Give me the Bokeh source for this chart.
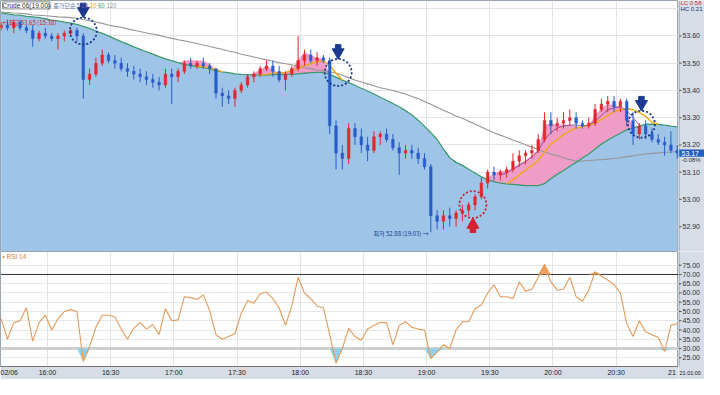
import numpy as np
from bokeh.plotting import figure
from bokeh.models import Range1d, ColumnDataSource, FixedTicker, Label, Span
from bokeh.layouts import column, row
from bokeh.core.properties import value
from bokeh.embed import file_html
from bokeh.resources import INLINE

# ---------------- data ----------------
# 3-minute bars, clock in minutes after midnight (15:38 ... 20:59)
bar_minutes = list(range(938, 1260, 3))

opens = [53.63, 53.64, 53.63, 53.65, 53.63, 53.62, 53.59, 53.61, 53.60, 53.59,
         53.60, 53.61, 53.62, 53.60, 53.44, 53.46, 53.50, 53.53, 53.51, 53.50,
         53.48, 53.47, 53.46, 53.45, 53.44, 53.43, 53.42, 53.46, 53.45, 53.47,
         53.50, 53.49, 53.50, 53.49, 53.48, 53.39, 53.38, 53.37, 53.40, 53.42,
         53.45, 53.46, 53.48, 53.49, 53.47, 53.44, 53.46, 53.48, 53.51, 53.53,
         53.51, 53.52, 53.51, 53.27, 53.17, 53.15, 53.26, 53.23, 53.20, 53.18,
         53.23, 53.24, 53.22, 53.19, 53.17, 53.18, 53.17, 53.15, 53.12, 52.94,
         52.92, 52.94, 52.93, 52.95, 52.96, 52.98, 53.01, 53.06, 53.10, 53.09,
         53.10, 53.11, 53.14, 53.16, 53.17, 53.18, 53.22, 53.29, 53.27, 53.28,
         53.29, 53.30, 53.28, 53.27, 53.28, 53.33, 53.35, 53.36, 53.34, 53.36,
         53.29, 53.24, 53.27, 53.24, 53.22, 53.21, 53.20, 53.18]
highs = [53.65, 53.66, 53.66, 53.66, 53.64, 53.64, 53.62, 53.63, 53.61, 53.61,
         53.62, 53.63, 53.63, 53.61, 53.48, 53.52, 53.55, 53.54, 53.53, 53.52,
         53.50, 53.49, 53.48, 53.47, 53.46, 53.45, 53.48, 53.48, 53.48, 53.51,
         53.52, 53.51, 53.52, 53.50, 53.48, 53.41, 53.40, 53.41, 53.43, 53.46,
         53.47, 53.49, 53.51, 53.51, 53.49, 53.47, 53.49, 53.60, 53.55, 53.55,
         53.54, 53.53, 53.52, 53.29, 53.20, 53.28, 53.28, 53.26, 53.23, 53.25,
         53.25, 53.26, 53.24, 53.21, 53.20, 53.20, 53.19, 53.17, 53.13, 52.96,
         52.96, 52.97, 52.96, 52.98, 52.99, 53.02, 53.08, 53.11, 53.12, 53.11,
         53.12, 53.17, 53.18, 53.18, 53.20, 53.24, 53.32, 53.32, 53.30, 53.32,
         53.33, 53.32, 53.29, 53.30, 53.35, 53.37, 53.38, 53.38, 53.37, 53.37,
         53.32, 53.28, 53.29, 53.26, 53.24, 53.23, 53.25, 53.20]
lows = [53.62, 53.62, 53.61, 53.62, 53.61, 53.56, 53.58, 53.59, 53.58, 53.55,
        53.58, 53.60, 53.58, 53.37, 53.42, 53.45, 53.49, 53.50, 53.48, 53.47,
        53.45, 53.44, 53.43, 53.42, 53.41, 53.40, 53.41, 53.35, 53.43, 53.46,
        53.48, 53.48, 53.48, 53.46, 53.37, 53.34, 53.35, 53.34, 53.39, 53.41,
        53.43, 53.45, 53.47, 53.45, 53.43, 53.40, 53.45, 53.47, 53.49, 53.50,
        53.49, 53.50, 53.24, 53.11, 53.11, 53.13, 53.20, 53.17, 53.14, 53.17,
        53.20, 53.21, 53.18, 53.09, 53.15, 53.15, 53.13, 53.11, 52.88, 52.89,
        52.89, 52.90, 52.90, 52.92, 52.94, 52.96, 53.00, 53.04, 53.07, 53.07,
        53.08, 53.10, 53.12, 53.13, 53.15, 53.17, 53.21, 53.24, 53.25, 53.26,
        53.27, 53.26, 53.26, 53.26, 53.27, 53.32, 53.32, 53.32, 53.32, 53.27,
        53.20, 53.22, 53.22, 53.21, 53.20, 53.16, 53.17, 53.15]
closes = [53.64, 53.63, 53.65, 53.63, 53.62, 53.59, 53.61, 53.60, 53.59, 53.60,
          53.61, 53.62, 53.60, 53.44, 53.46, 53.50, 53.53, 53.51, 53.50, 53.48,
          53.47, 53.46, 53.45, 53.44, 53.43, 53.42, 53.46, 53.45, 53.47, 53.50,
          53.49, 53.50, 53.49, 53.48, 53.39, 53.38, 53.37, 53.40, 53.42, 53.45,
          53.46, 53.48, 53.49, 53.47, 53.44, 53.46, 53.48, 53.51, 53.53, 53.51,
          53.52, 53.51, 53.27, 53.17, 53.15, 53.26, 53.23, 53.20, 53.18, 53.23,
          53.24, 53.22, 53.19, 53.17, 53.18, 53.17, 53.15, 53.12, 52.94, 52.92,
          52.94, 52.93, 52.95, 52.96, 52.98, 53.01, 53.06, 53.10, 53.09, 53.10,
          53.11, 53.14, 53.16, 53.17, 53.18, 53.22, 53.29, 53.27, 53.28, 53.29,
          53.30, 53.28, 53.27, 53.28, 53.33, 53.35, 53.36, 53.34, 53.36, 53.29,
          53.24, 53.27, 53.24, 53.22, 53.21, 53.20, 53.18, 53.17]

# 60-bar moving average (green, top of the blue area)
ma60 = [53.684, 53.681, 53.677, 53.676, 53.672, 53.670, 53.667, 53.663, 53.658, 53.655,
        53.651, 53.647, 53.642, 53.635, 53.628, 53.618, 53.609, 53.600, 53.589, 53.579,
        53.570, 53.560, 53.551, 53.542, 53.533, 53.524, 53.516, 53.509, 53.502, 53.496,
        53.491, 53.487, 53.484, 53.479, 53.473, 53.468, 53.465, 53.461, 53.459, 53.458,
        53.456, 53.456, 53.456, 53.458, 53.458, 53.459, 53.459, 53.461, 53.463, 53.465,
        53.466, 53.466, 53.459, 53.449, 53.438, 53.429, 53.419, 53.408, 53.398, 53.387,
        53.375, 53.364, 53.352, 53.340, 53.326, 53.310, 53.291, 53.269, 53.245, 53.220,
        53.185, 53.153, 53.136, 53.125, 53.111, 53.097, 53.083, 53.072, 53.065, 53.060,
        53.057, 53.055, 53.053, 53.051, 53.051, 53.051, 53.058, 53.076, 53.092, 53.106,
        53.122, 53.136, 53.152, 53.167, 53.185, 53.203, 53.217, 53.231, 53.243, 53.255,
        53.262, 53.269, 53.276, 53.276, 53.275, 53.273, 53.269, 53.266]
# 120-bar moving average (gray)
ma120 = [53.688, 53.686, 53.684, 53.683, 53.681, 53.677, 53.676, 53.674, 53.672, 53.670,
         53.669, 53.667, 53.665, 53.660, 53.656, 53.651, 53.646, 53.640, 53.635, 53.632,
         53.626, 53.621, 53.616, 53.611, 53.607, 53.602, 53.596, 53.591, 53.586, 53.582,
         53.577, 53.572, 53.567, 53.561, 53.556, 53.551, 53.545, 53.540, 53.533, 53.528,
         53.523, 53.517, 53.512, 53.507, 53.502, 53.498, 53.494, 53.489, 53.484, 53.479,
         53.475, 53.472, 53.468, 53.463, 53.456, 53.447, 53.438, 53.431, 53.424, 53.417,
         53.410, 53.405, 53.400, 53.393, 53.387, 53.378, 53.370, 53.359, 53.349, 53.338,
         53.327, 53.317, 53.306, 53.298, 53.287, 53.276, 53.266, 53.255, 53.245, 53.236,
         53.227, 53.218, 53.210, 53.201, 53.192, 53.183, 53.174, 53.167, 53.160, 53.153,
         53.146, 53.141, 53.141, 53.143, 53.145, 53.146, 53.148, 53.150, 53.153, 53.157,
         53.160, 53.164, 53.167, 53.169, 53.171, 53.173, 53.174, 53.176]
# 5-bar average where it runs above the 60 line (top of the pink band)
ma5_above = ([None] * 28 +
             [53.502, 53.509, 53.512, 53.509, 53.509, 53.498, 53.473] +
             [None] * 4 +
             [53.458, 53.463, 53.477, 53.491, 53.477, 53.463, 53.466, 53.477, 53.512, 53.540,
              53.530, 53.519, 53.516, 53.459] +
             [None] * 24 +
             [53.079, 53.097, 53.104, 53.104, 53.115, 53.132, 53.143, 53.160, 53.185, 53.273,
              53.280, 53.273, 53.276, 53.273, 53.269, 53.262, 53.273, 53.308, 53.336, 53.350,
              53.347, 53.340, 53.322, 53.262] +
             [None] * 7)
# 20-bar average (orange) where visible
ma20_above = ([None] * 31 +
              [53.489, 53.487, 53.482, 53.477, 53.468] +
              [None] * 5 +
              [53.456, 53.459, 53.463, 53.465, 53.466, 53.473, 53.480, 53.491, 53.498, 53.505,
               53.509, 53.491, 53.463, 53.438] +
              [None] * 25 +
              [53.058, 53.072, 53.090, 53.108, 53.125, 53.143, 53.174, 53.203, 53.220, 53.238,
               53.252, 53.262, 53.266, 53.273, 53.280, 53.294, 53.308, 53.322, 53.329, 53.333,
               53.329, 53.319, 53.305, 53.283, 53.275] +
              [None] * 3)
# 10-bar average (purple) where visible
ma10_above = ([None] * 79 +
              [53.090, 53.097, 53.111, 53.125, 53.139, 53.157, 53.178, 53.220, 53.245, 53.262,
               53.269, 53.273, 53.273, 53.269, 53.273, 53.287, 53.308, 53.329, 53.336, 53.340,
               53.326, 53.301, 53.273] +
              [None] * 6)

rsi14 = [46, 35, 44, 45, 52, 34, 44, 48, 40, 46,
         50, 51, 50, 23, 31, 41.5, 48, 48, 47, 40.5,
         35, 41, 44, 40.5, 43, 37.5, 51.5, 45, 45.5, 58,
         57.5, 56.5, 59, 50.5, 37.5, 35, 36.5, 38, 49, 56,
         54.5, 59.5, 60.5, 57, 52, 42.5, 53, 68.5, 60, 57,
         53, 52, 37.5, 22, 30, 41, 36.5, 34.5, 40.5, 42.5,
         44, 44, 32, 42.5, 44.5, 41.5, 40.5, 40, 24.5, 28,
         32, 30, 40, 44.5, 44.5, 51.5, 53.5, 60, 64.5, 58,
         58, 57, 66, 61, 62, 68.5, 75.5, 66, 61.5, 62,
         68.5, 58, 55.5, 61.5, 71.5, 69, 67, 64.5, 60, 43.5,
         36.5, 45, 39, 37.5, 36, 28.5, 42.5, 43.5]

sell_minutes = [977, 1098, 1242]
sell_prices = [53.618, 53.466, 53.276]
buy_minutes = [1162]
buy_prices = [52.981]

tick_minutes = [938, 960, 990, 1020, 1050, 1080, 1110, 1140, 1170, 1200, 1230, 1256.5]
tick_labels = ["02/06", "16:00", "16:30", "17:00", "17:30", "18:00", "18:30",
               "19:00", "19:30", "20:00", "20:30", "21"]
grid_minutes = [960, 990, 1020, 1050, 1080, 1110, 1140, 1170, 1200, 1230]
price_ticks = [52.90, 53.00, 53.10, 53.20, 53.30, 53.40, 53.50, 53.60]
price_grid = price_ticks + [53.70]
rsi_ticks = [25, 30, 35, 40, 45, 50, 55, 60, 65, 70, 75]
last_change = "-0.08%"
lc_text = "LC 0.58"
hc_text = "HC 0.21"
last_time = "21:01:00"

# ---------------- styling ----------------
NUM_FONT = "Liberation Sans"
KR_FONT = "Noto Sans CJK KR"
STRIP = "#d6dde6"
BLUE_AREA = "#9ec5e8"
PINK = "#ef9cc7"
NAVY = "#1b3a8f"

x_range = Range1d(937.7, 1259.6)
price_range = Range1d(52.809, 53.730)
rsi_range = Range1d(20.3, 82.4)


def base_fig(**kw):
    f = figure(output_backend="svg", toolbar_location=None, min_border_left=0,
               min_border_right=0, min_border_top=0, min_border_bottom=0, **kw)
    f.background_fill_color = "white"
    f.border_fill_color = STRIP
    return f


p = base_fig(frame_width=678, frame_height=251, x_range=x_range, y_range=price_range,
             x_axis_location=None, y_axis_location=None)
p.outline_line_color = "#9aa4b0"
p.xgrid.ticker = FixedTicker(ticks=grid_minutes)
p.ygrid.ticker = FixedTicker(ticks=price_grid)
p.xgrid.grid_line_color = "#e3e3e3"
p.ygrid.grid_line_color = "#e3e3e3"

t = np.array(bar_minutes, dtype=float)
g60 = np.array(ma60, dtype=float)
top5 = np.array(ma5_above, dtype=float)

p.varea(x=t, y1=52.70, y2=g60, fill_color=BLUE_AREA, fill_alpha=1.0)

valid = ~np.isnan(top5)
idx = np.where(valid)[0]
segments = np.split(idx, np.where(np.diff(idx) != 1)[0] + 1)
for seg in segments:
    if len(seg) > 1:
        p.varea(x=t[seg], y1=g60[seg], y2=np.maximum(top5[seg], g60[seg]),
                fill_color=PINK, fill_alpha=1.0)

p.line(t, np.array(ma120, dtype=float), line_color="#969696", line_width=1.1)
p.line(t, g60, line_color="#3e9a6e", line_width=1.3)
p.line(t, np.array(ma20_above, dtype=float), line_color="#f0a818", line_width=1.4)
p.line(t, np.array(ma10_above, dtype=float), line_color="#7b3d86", line_width=0.8)

o = np.array(opens); h = np.array(highs); l = np.array(lows); c = np.array(closes)
colors = ["#e3262f" if cc > oo else "#2a5cc8" for oo, cc in zip(opens, closes)]
src = ColumnDataSource(dict(t=t, o=o, h=h, l=l, c=c,
                            top=np.maximum(o, c), bottom=np.minimum(o, c), color=colors))
p.segment(x0="t", y0="l", x1="t", y1="h", line_color="color", line_width=1, source=src)
p.vbar(x="t", width=1.25, top="top", bottom="bottom", fill_color="color",
       line_color="color", line_width=0.5, source=src)

sx = np.array(sell_minutes, dtype=float); sy = np.array(sell_prices)
p.scatter(sx, sy, marker="circle", size=27, fill_color=None, line_color=NAVY,
          line_width=1.8, line_dash="2 2")
p.scatter(sx, sy + 0.074, marker="inverted_triangle", size=12, color=NAVY)
p.scatter(sx, sy + 0.092, marker="square", size=5.5, color=NAVY)
bx = np.array(buy_minutes, dtype=float); by = np.array(buy_prices)
p.scatter(bx, by, marker="circle", size=27, fill_color=None, line_color="#c8202e",
          line_width=1.8, line_dash="2 2")
p.scatter(bx, by - 0.074, marker="triangle", size=12, color="#d42030")
p.scatter(bx, by - 0.092, marker="square", size=5.5, color="#d42030")

p.add_layout(Label(x=938.7, y=53.712, text="Crude 06(19.00)", text_font=NUM_FONT,
                   text_font_size="6.5px", text_color="#333333", text_baseline="middle",
                   background_fill_color="white", border_line_color="#8a8a8a"))
for tx, txt, col in [(959.3, "≡ 종가단순 5", "#5470a8"), (976.0, "10", "#8050a0"),
                     (980.0, "20", "#e0a000"), (984.0, "60", "#3e9a6e"),
                     (988.0, "120", "#909090")]:
    p.add_layout(Label(x=tx, y=53.712, text=txt, text_font=KR_FONT, text_font_size="6px",
                       text_color=col, text_baseline="middle"))
p.add_layout(Label(x=938.6, y=53.649, text="←최고 53.65 (15:38)", text_font=KR_FONT,
                   text_font_size="6px", text_color="#d01c1c", text_baseline="middle"))
p.add_layout(Label(x=1141.0, y=52.876, text="최저 52.88 (19:03) →", text_font=KR_FONT,
                   text_font_size="6px", text_color=NAVY, text_baseline="middle",
                   text_align="right"))

# ---------------- price scale strip ----------------
ps = base_fig(frame_width=26, frame_height=251, x_range=Range1d(0, 26), y_range=price_range,
              x_axis_location=None, y_axis_location=None)
ps.background_fill_color = STRIP
ps.outline_line_color = None
ps.grid.visible = False
ps.add_layout(Span(location=0.5, dimension="height", line_color="#8a96a4", line_width=1))
ps.segment(x0=0, y0=price_ticks, x1=3, y1=price_ticks, line_color="#555555", line_width=1)
ps.text(x=4, y=price_ticks, text=[f"{v:.2f}" for v in price_ticks], text_font=value(NUM_FONT),
        text_font_size="7px", text_color="#333333", text_baseline="middle")
ps.quad(left=0, right=26, bottom=closes[-1] - 0.0135, top=closes[-1] + 0.0135,
        fill_color="#1f5fbf", line_color=None)
ps.text(x=3, y=[closes[-1]], text=[f"{closes[-1]:.2f}"], text_font=value(NUM_FONT),
        text_font_size="7px", text_color="white", text_baseline="middle")
ps.text(x=3, y=[53.145], text=[last_change], text_font=value(NUM_FONT),
        text_font_size="6px", text_color="#333333", text_baseline="middle")
ps.text(x=2, y=[53.719], text=[lc_text], text_font=value(NUM_FONT),
        text_font_size="6px", text_color="#d03030", text_baseline="middle")
ps.text(x=2, y=[53.699], text=[hc_text], text_font=value(NUM_FONT),
        text_font_size="6px", text_color="#203080", text_baseline="middle")

# ---------------- RSI panel ----------------
r = base_fig(frame_width=678, frame_height=115, x_range=x_range, y_range=rsi_range,
             y_axis_location=None)
r.min_border_bottom = 13
r.outline_line_color = "#9aa4b0"
r.xgrid.ticker = FixedTicker(ticks=grid_minutes)
r.ygrid.ticker = FixedTicker(ticks=rsi_ticks)
r.xgrid.grid_line_color = "#e3e3e3"
r.ygrid.grid_line_color = "#e6e6e6"
rx = r.xaxis[0]
rx.ticker = FixedTicker(ticks=tick_minutes)
rx.major_label_overrides = {m: s for m, s in zip(tick_minutes, tick_labels)}
rx.major_label_text_font = NUM_FONT
rx.major_label_text_font_size = "7px"
rx.major_label_text_color = "#222222"
rx.major_label_text_align = "left"
rx.major_tick_out = 0
rx.major_tick_in = 0
rx.minor_tick_out = 0
rx.minor_tick_in = 0
rx.major_label_standoff = 2
rx.axis_line_color = "#777777"

r.add_layout(Span(location=70, dimension="width", line_color="#333333", line_width=1,
                  level="underlay"))
r.add_layout(Span(location=30, dimension="width", line_color="#cfcfcf", line_width=3,
                  level="underlay"))
rv = np.array(rsi14, dtype=float)
r.varea(x=t, y1=np.minimum(rv, 30), y2=30, fill_color="#8fd0ea")
r.varea(x=t, y1=70, y2=np.maximum(rv, 70), fill_color="#f0a060")
r.line(t, rv, line_color="#e39a5c", line_width=1.1)
r.add_layout(Label(x=938.6, y=79.8, text="• RSI 14", text_font=NUM_FONT,
                   text_font_size="6.5px", text_color="#e07a30", text_baseline="middle"))

# ---------------- RSI scale strip (includes the time-axis corner) ----------------
rs = base_fig(frame_width=26, frame_height=128, x_range=Range1d(0, 26),
              y_range=Range1d(13.28, 82.4), x_axis_location=None, y_axis_location=None)
rs.background_fill_color = STRIP
rs.outline_line_color = None
rs.grid.visible = False
rs.segment(x0=0.5, y0=20.3, x1=0.5, y1=82.4, line_color="#8a96a4", line_width=1)
rs.segment(x0=0, y0=rsi_ticks, x1=3, y1=rsi_ticks, line_color="#555555", line_width=1)
rs.text(x=4, y=rsi_ticks, text=[f"{v:.2f}" for v in rsi_ticks], text_font=value(NUM_FONT),
        text_font_size="7px", text_color="#333333", text_baseline="middle")
rs.text(x=1, y=[16.6], text=[last_time], text_font=value(NUM_FONT),
        text_font_size="5.5px", text_color="#222222", text_baseline="middle")

layout = row(column(p, r), column(ps, rs))
open("out.html", "w").write(file_html(layout, INLINE))
